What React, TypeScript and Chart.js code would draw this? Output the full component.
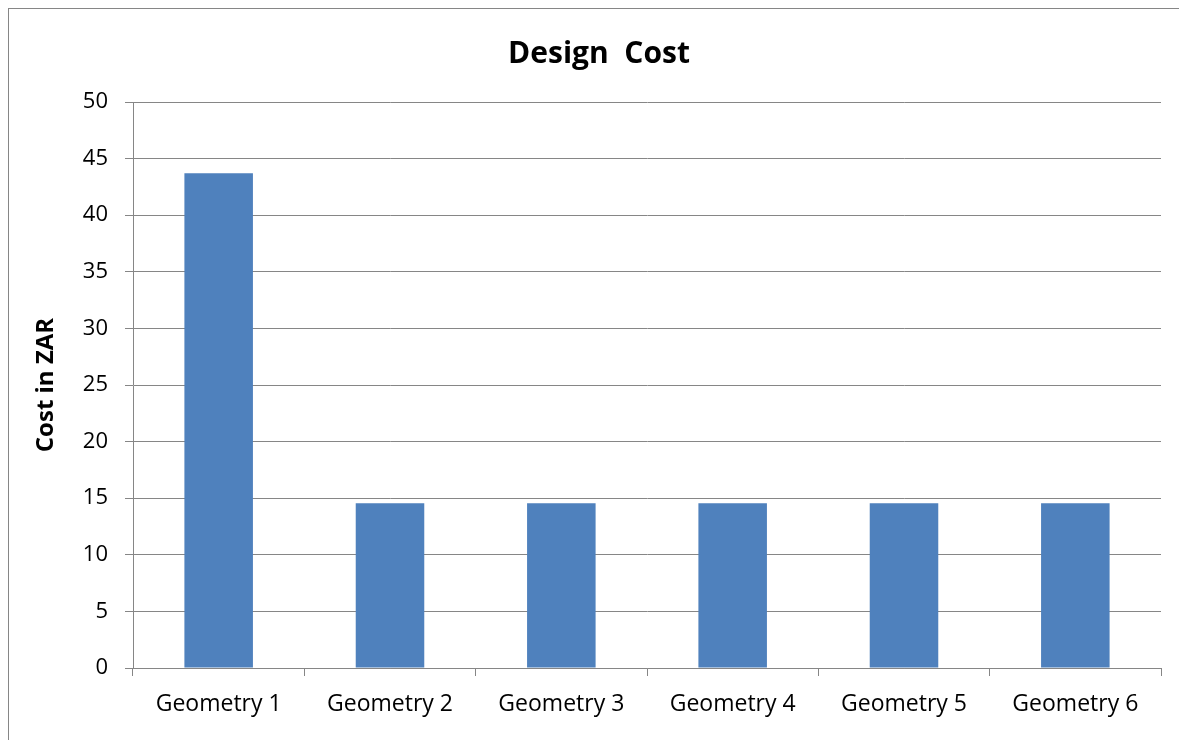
import React, { useEffect, useRef } from "react";
import { Chart, registerables } from "chart.js";

Chart.register(...registerables);

const categories = ["Geometry 1", "Geometry 2", "Geometry 3", "Geometry 4", "Geometry 5", "Geometry 6"];
const costValues = [43.7, 14.56, 14.56, 14.56, 14.56, 14.56];
const chartTitle = "Design  Cost";
const yAxisTitle = "Cost in ZAR";

const GRID = "#868686";
const FONT = "'Open Sans', sans-serif";

export default function App() {
  const ref = useRef<HTMLCanvasElement | null>(null);

  useEffect(() => {
    document.documentElement.style.overflow = "hidden";
    document.body.style.overflow = "hidden";
    if (!ref.current) return;
    const chart = new Chart(ref.current, {
      type: "bar",
      data: {
        labels: categories,
        datasets: [
          {
            label: "Cost",
            data: costValues,
            backgroundColor: "#4F81BD",
            borderWidth: 0,
            barPercentage: 0.4,
            categoryPercentage: 1,
          },
        ],
      },
      options: {
        responsive: false,
        animation: false,
        layout: { padding: 0 },
        plugins: {
          legend: { display: false },
          tooltip: { enabled: false },
          title: {
            display: true,
            text: chartTitle,
            color: "#000",
            font: { family: FONT, size: 30, weight: "bold", lineHeight: 1.2 },
            padding: { top: 27, bottom: 30 },
          },
        },
        scales: {
          x: {
            afterFit: (s: any) => {
              s.height = 72;
            },
            grid: {
              display: true,
              drawOnChartArea: false,
              drawTicks: true,
              tickLength: 8,
              offset: true,
              color: GRID,
            },
            border: { display: true, color: GRID },
            ticks: {
              color: "#000",
              padding: 15,
              font: { family: FONT, size: 23 },
              maxRotation: 0,
            },
          },
          y: {
            min: 0,
            max: 50,
            afterFit: (s: any) => {
              s.width = 124;
            },
            grid: {
              display: true,
              drawTicks: true,
              tickLength: 8,
              color: GRID,
            },
            border: { display: true, color: GRID },
            ticks: {
              stepSize: 5,
              color: "#000",
              padding: 17,
              font: { family: FONT, size: 22 },
            },
            title: {
              display: true,
              text: yAxisTitle,
              color: "#000",
              font: { family: FONT, size: 24, weight: "bold", lineHeight: 1.2 },
              padding: { top: 23, bottom: 0 },
            },
          },
          spacer: {
            type: "linear",
            position: "right",
            min: 0,
            max: 1,
            afterFit: (s: any) => {
              s.width = 28;
            },
            grid: { display: false, drawTicks: false },
            border: { display: false },
            ticks: { display: false },
          },
        },
      },
    });
    return () => chart.destroy();
  }, []);

  return (
    <div
      style={{
        borderLeft: `1px solid ${GRID}`,
        borderTop: `1px solid ${GRID}`,
        width: 1180,
        height: 731,
        background: "#fff",
      }}
    >
      <canvas ref={ref} width={1180} height={731} style={{ display: "block", width: 1180, height: 731 }} />
    </div>
  );
}
